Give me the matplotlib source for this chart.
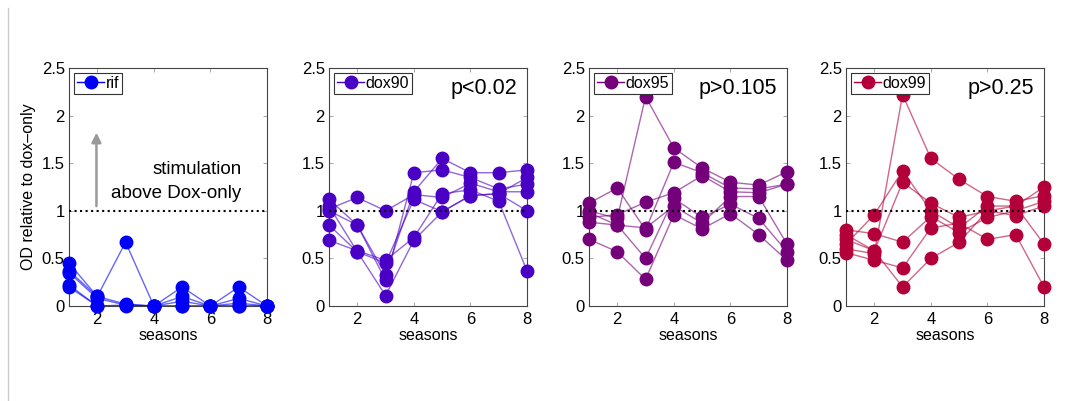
import numpy as np
import matplotlib
matplotlib.use('Agg')
import matplotlib.pyplot as plt
from matplotlib.lines import Line2D

plt.rcParams['font.family'] = ['Liberation Sans', 'DejaVu Sans']

# seasons on the x axis
seasons = [1, 2, 3, 4, 5, 6, 7, 8]

# replicate lines for each treatment (OD relative to dox-only)
rif = [
    [0.45, 0.10, 0.67, 0.00, 0.20, 0.00, 0.20, 0.00],
    [0.37, 0.10, 0.02, 0.00, 0.10, 0.00, 0.08, 0.00],
    [0.35, 0.08, 0.01, 0.00, 0.00, 0.00, 0.03, 0.00],
    [0.22, 0.00, 0.00, 0.00, 0.05, 0.00, 0.00, 0.00],
    [0.20, 0.00, 0.01, 0.00, 0.00, 0.00, 0.00, 0.00],
]
dox90 = [
    [1.02, 1.14, 1.00, 1.17, 1.14, 1.29, 1.20, 1.20],
    [1.12, 0.85, 0.27, 1.40, 1.43, 1.35, 1.23, 1.28],
    [1.00, 0.85, 0.33, 1.20, 1.55, 1.40, 1.40, 1.43],
    [0.85, 0.57, 0.11, 0.69, 0.99, 1.16, 1.18, 1.35],
    [0.69, 0.58, 0.48, 0.72, 1.18, 1.22, 1.10, 0.37],
    [1.05, 0.57, 0.45, 1.12, 0.99, 1.16, 1.18, 1.00],
]
dox95 = [
    [1.00, 0.92, 2.20, 1.66, 1.45, 1.30, 1.27, 1.41],
    [1.08, 1.24, 0.80, 1.51, 1.40, 1.24, 1.23, 1.28],
    [0.93, 0.96, 1.09, 1.19, 1.37, 1.20, 1.19, 1.28],
    [0.98, 0.85, 0.82, 1.05, 0.87, 1.15, 1.15, 0.65],
    [0.88, 0.85, 0.50, 1.13, 0.93, 1.07, 0.92, 0.57],
    [0.70, 0.57, 0.28, 0.96, 0.81, 0.97, 0.75, 0.48],
]
dox99 = [
    [0.60, 0.55, 2.22, 1.55, 1.33, 1.15, 1.10, 1.16],
    [0.65, 0.96, 1.42, 1.00, 0.82, 1.05, 1.05, 1.25],
    [0.75, 0.58, 1.30, 1.08, 0.93, 1.00, 0.95, 1.05],
    [0.80, 0.76, 0.67, 0.94, 0.77, 0.93, 1.00, 1.10],
    [0.56, 0.48, 0.40, 0.82, 0.87, 0.70, 0.75, 0.20],
    [0.70, 0.58, 0.20, 0.50, 0.67, 1.00, 1.05, 0.65],
]

names = ['rif', 'dox90', 'dox95', 'dox99']
groups = [rif, dox90, dox95, dox99]
pvals = ['', 'p<0.02', 'p>0.105', 'p>0.25']
colors = ['#0000f5', '#4a00c4', '#74007a', '#b4003a']

W, H = 1073, 401
fig = plt.figure(figsize=(W / 100, H / 100), dpi=100)

# faint page border on the left
fig.add_artist(Line2D([8 / W, 8 / W], [0, 1 - 8 / H], color='#cccccc', lw=1))

lefts = [69, 329, 589, 846]
for i in range(4):
    ax = fig.add_axes([lefts[i] / W, 1 - 306 / H, 198 / W, 238 / H])
    c = colors[i]
    for rep in groups[i]:
        ax.plot(seasons, rep, '-', color=c, lw=1.0, alpha=0.6, clip_on=False, zorder=2)
        ax.plot(seasons, rep, 'o', color=c, ms=9, clip_on=False, zorder=3)
    ax.axhline(1, color='black', ls=':', lw=1.5, zorder=4)

    ax.set_xlim(1, 8)
    ax.set_ylim(0, 2.5)
    ax.set_xticks([2, 4, 6, 8])
    ax.set_yticks([0, 0.5, 1, 1.5, 2, 2.5])
    ax.set_yticklabels(['0', '0.5', '1', '1.5', '2', '2.5'])
    ax.tick_params(direction='in', top=True, right=True, length=3, width=0.6,
                   labelsize=12, pad=3, colors='#999999', labelcolor='black')
    ax.tick_params(axis='x', pad=4)
    for sp in ax.spines.values():
        sp.set_color('#444444')
        sp.set_linewidth(0.8)
    ax.set_xlabel('seasons', fontsize=11.5, labelpad=1)

    handle = Line2D([], [], color=c, lw=1.0, marker='o', ms=9)
    leg = ax.legend([handle], [names[i]], loc='upper left', fontsize=11.5,
                    handlelength=1.7, handletextpad=0.1, borderpad=0.2,
                    borderaxespad=0.3, fancybox=False, framealpha=1)
    leg.get_frame().set_edgecolor('#333333')
    leg.get_frame().set_linewidth(0.8)
    leg.set_zorder(5)

    if pvals[i]:
        ax.text(0.95, 0.915, pvals[i], transform=ax.transAxes, ha='right',
                va='center', fontsize=15.5)

    if i == 0:
        ax.set_ylabel('OD relative to dox\u2013only', fontsize=11.5, labelpad=4)
        ax.annotate('', xy=(1.97, 1.85), xytext=(1.97, 1.02),
                    arrowprops=dict(arrowstyle='-|>', color='#999999', lw=1.8,
                                    mutation_scale=14))
        ax.text(7.1, 1.43, 'stimulation', ha='right', va='center', fontsize=13.5)
        ax.text(7.1, 1.18, 'above Dox-only', ha='right', va='center', fontsize=13.5)

fig.savefig('out.png', dpi=100)
